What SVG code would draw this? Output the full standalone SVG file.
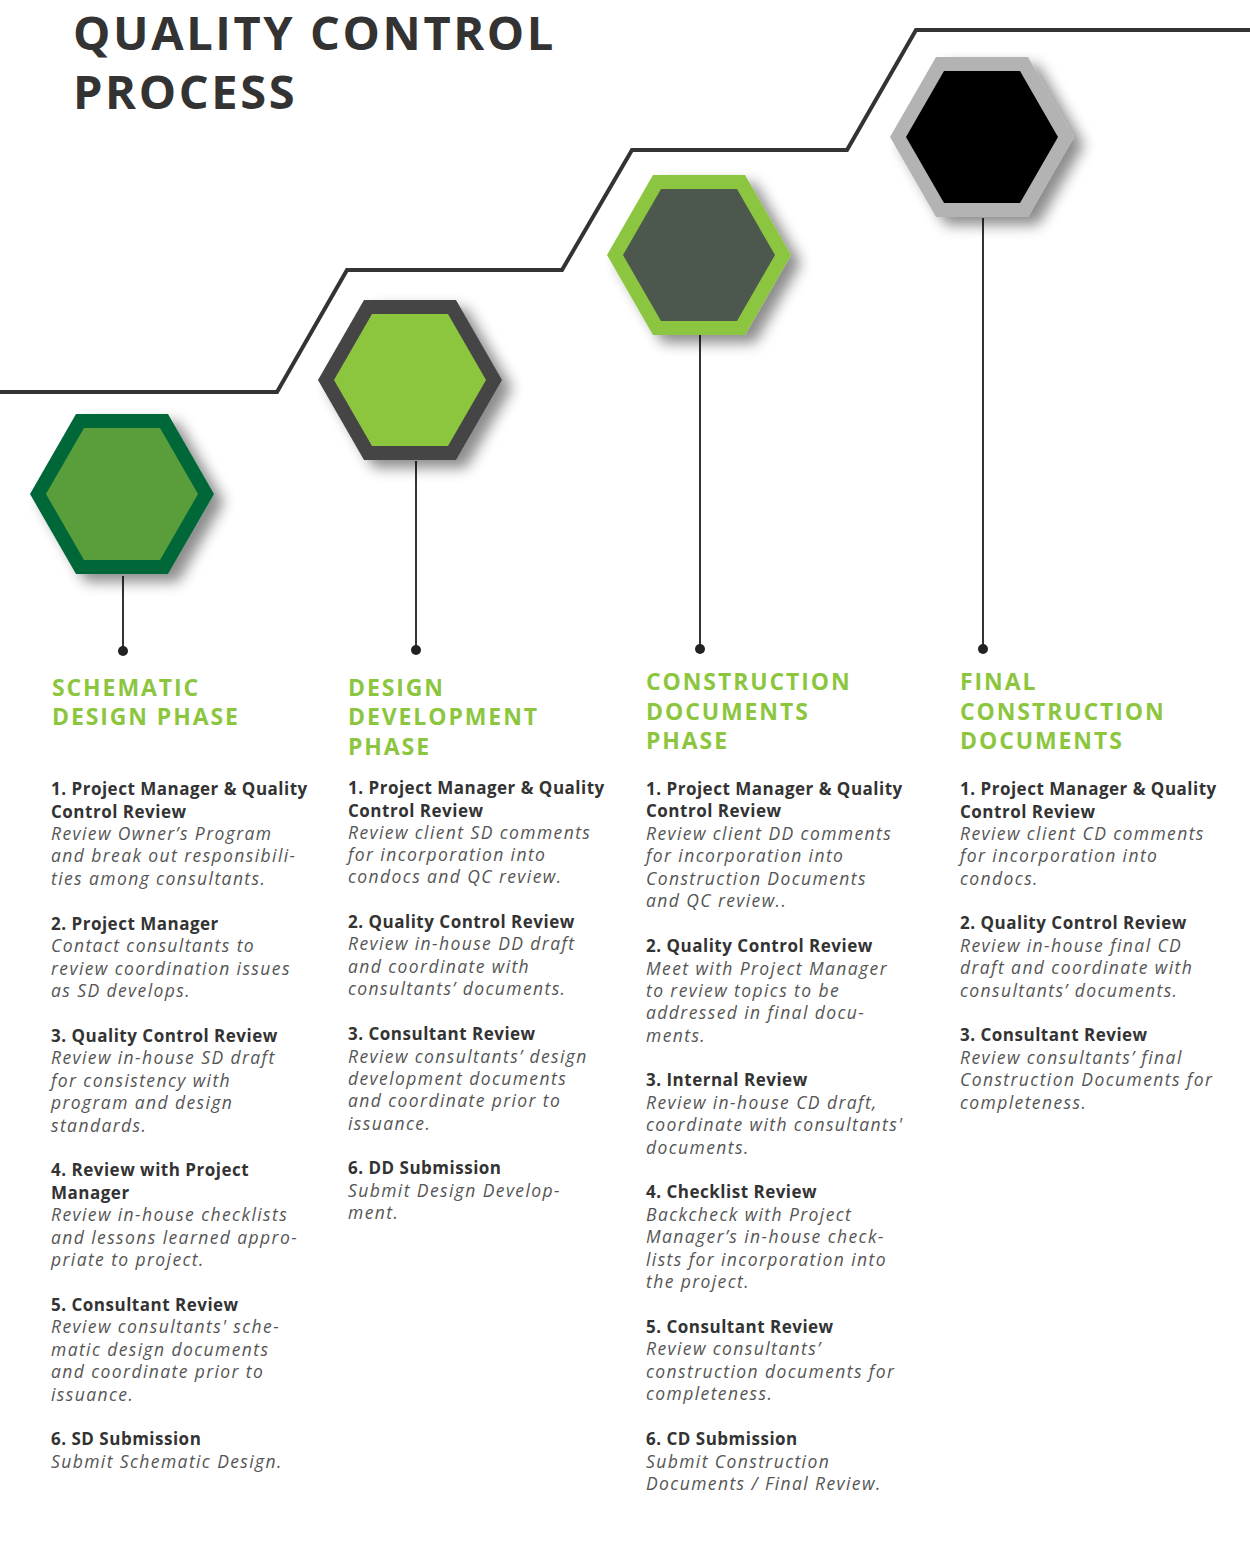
<svg xmlns="http://www.w3.org/2000/svg" width="1250" height="1542" viewBox="0 0 1250 1542">
<style>
.t{font-family:"Open Sans","Liberation Sans",sans-serif;font-weight:700;fill:#333;font-size:47px;letter-spacing:2.6px}
.h{font-family:"Open Sans","Liberation Sans",sans-serif;font-weight:700;fill:#8cc63f;font-size:23px;letter-spacing:1.9px}
.b{font-family:"Open Sans","Liberation Sans",sans-serif;font-weight:700;fill:#333;font-size:17px;letter-spacing:0.5px}
.i{font-family:"Open Sans","Liberation Sans",sans-serif;font-style:italic;fill:#555;font-size:17.5px;letter-spacing:1.4px}
.vl{stroke:#333;stroke-width:2;fill:none}
</style>
<defs>
<filter id="sh" x="-30%" y="-30%" width="170%" height="170%"><feDropShadow dx="10" dy="8" stdDeviation="7" flood-color="#000" flood-opacity="0.45"/></filter>
</defs>
<text class="t" x="73" y="50">QUALITY CONTROL</text>
<text class="t" x="73" y="109">PROCESS</text>
<g id="connectors">
<polyline points="0,392 277,392 347,270 562,270 632,150 847,150 916,30 1250,30" fill="none" stroke="#333" stroke-width="4"/>
<line class="vl" x1="123" y1="576" x2="123" y2="651"/><circle cx="123" cy="651" r="5" fill="#222"/>
<line class="vl" x1="416" y1="461" x2="416" y2="650"/><circle cx="416" cy="650" r="5" fill="#222"/>
<line class="vl" x1="700" y1="335" x2="700" y2="649"/><circle cx="700" cy="649" r="5" fill="#222"/>
<line class="vl" x1="983" y1="218" x2="983" y2="649"/><circle cx="983" cy="649" r="5" fill="#222"/>
</g>
<g id="hex1"><polygon filter="url(#sh)" fill="#006837" points="30,494 76,414 168,414 214,494 168,574 76,574"/><polygon fill="#5a9e3c" points="46,494 84,428 160,428 198,494 160,560 84,560"/></g>
<g id="hex2"><polygon filter="url(#sh)" fill="#444" points="318,380 364,300 456,300 502,380 456,460 364,460"/><polygon fill="#8cc63f" points="334,380 372,314 448,314 486,380 448,446 372,446"/></g>
<g id="hex3"><polygon filter="url(#sh)" fill="#8cc63f" points="607,255 653,175 745,175 791,255 745,335 653,335"/><polygon fill="#4c584d" points="623,255 661,189 737,189 775,255 737,321 661,321"/></g>
<g id="hex4"><polygon filter="url(#sh)" fill="#b3b3b3" points="890,137 936,57 1028,57 1074,137 1028,217 936,217"/><polygon fill="#000" points="906,137 944,71 1020,71 1058,137 1020,203 944,203"/></g>
<g id="col1">
<text class="h" x="52" y="696">SCHEMATIC</text><text class="h" x="52" y="725">DESIGN PHASE</text>
<text class="b" x="51" y="795">1. Project Manager &amp; Quality</text>
<text class="b" x="51" y="818">Control Review</text>
<text class="i" x="51" y="840">Review Owner’s Program</text>
<text class="i" x="51" y="862">and break out responsibili-</text>
<text class="i" x="51" y="885">ties among consultants.</text>
<text class="b" x="51" y="930">2. Project Manager</text>
<text class="i" x="51" y="952">Contact consultants to</text>
<text class="i" x="51" y="975">review coordination issues</text>
<text class="i" x="51" y="997">as SD develops.</text>
<text class="b" x="51" y="1042">3. Quality Control Review</text>
<text class="i" x="51" y="1064">Review in-house SD draft</text>
<text class="i" x="51" y="1087">for consistency with</text>
<text class="i" x="51" y="1109">program and design</text>
<text class="i" x="51" y="1132">standards.</text>
<text class="b" x="51" y="1176">4. Review with Project</text>
<text class="b" x="51" y="1199">Manager</text>
<text class="i" x="51" y="1221">Review in-house checklists</text>
<text class="i" x="51" y="1244">and lessons learned appro-</text>
<text class="i" x="51" y="1266">priate to project.</text>
<text class="b" x="51" y="1311">5. Consultant Review</text>
<text class="i" x="51" y="1333">Review consultants' sche-</text>
<text class="i" x="51" y="1356">matic design documents</text>
<text class="i" x="51" y="1378">and coordinate prior to</text>
<text class="i" x="51" y="1401">issuance.</text>
<text class="b" x="51" y="1445">6. SD Submission</text>
<text class="i" x="51" y="1468">Submit Schematic Design.</text>
</g>
<g id="col2">
<text class="h" x="348" y="696">DESIGN</text><text class="h" x="348" y="725">DEVELOPMENT</text><text class="h" x="348" y="755">PHASE</text>
<text class="b" x="348" y="794">1. Project Manager &amp; Quality</text>
<text class="b" x="348" y="817">Control Review</text>
<text class="i" x="348" y="839">Review client SD comments</text>
<text class="i" x="348" y="861">for incorporation into</text>
<text class="i" x="348" y="883">condocs and QC review.</text>
<text class="b" x="348" y="928">2. Quality Control Review</text>
<text class="i" x="348" y="950">Review in-house DD draft</text>
<text class="i" x="348" y="973">and coordinate with</text>
<text class="i" x="348" y="995">consultants’ documents.</text>
<text class="b" x="348" y="1040">3. Consultant Review</text>
<text class="i" x="348" y="1063">Review consultants’ design</text>
<text class="i" x="348" y="1085">development documents</text>
<text class="i" x="348" y="1107">and coordinate prior to</text>
<text class="i" x="348" y="1130">issuance.</text>
<text class="b" x="348" y="1174">6. DD Submission</text>
<text class="i" x="348" y="1197">Submit Design Develop-</text>
<text class="i" x="348" y="1219">ment.</text>
</g>
<g id="col3">
<text class="h" x="646" y="690">CONSTRUCTION</text><text class="h" x="646" y="720">DOCUMENTS</text><text class="h" x="646" y="749">PHASE</text>
<text class="b" x="646" y="795">1. Project Manager &amp; Quality</text>
<text class="b" x="646" y="817">Control Review</text>
<text class="i" x="646" y="840">Review client DD comments</text>
<text class="i" x="646" y="862">for incorporation into</text>
<text class="i" x="646" y="885">Construction Documents</text>
<text class="i" x="646" y="907">and QC review..</text>
<text class="b" x="646" y="952">2. Quality Control Review</text>
<text class="i" x="646" y="975">Meet with Project Manager</text>
<text class="i" x="646" y="997">to review topics to be</text>
<text class="i" x="646" y="1019">addressed in final docu-</text>
<text class="i" x="646" y="1042">ments.</text>
<text class="b" x="646" y="1086">3. Internal Review</text>
<text class="i" x="646" y="1109">Review in-house CD draft,</text>
<text class="i" x="646" y="1131">coordinate with consultants'</text>
<text class="i" x="646" y="1154">documents.</text>
<text class="b" x="646" y="1198">4. Checklist Review</text>
<text class="i" x="646" y="1221">Backcheck with Project</text>
<text class="i" x="646" y="1243">Manager’s in-house check-</text>
<text class="i" x="646" y="1266">lists for incorporation into</text>
<text class="i" x="646" y="1288">the project.</text>
<text class="b" x="646" y="1333">5. Consultant Review</text>
<text class="i" x="646" y="1355">Review consultants’</text>
<text class="i" x="646" y="1378">construction documents for</text>
<text class="i" x="646" y="1400">completeness.</text>
<text class="b" x="646" y="1445">6. CD Submission</text>
<text class="i" x="646" y="1468">Submit Construction</text>
<text class="i" x="646" y="1490">Documents / Final Review.</text>
</g>
<g id="col4">
<text class="h" x="960" y="690">FINAL</text><text class="h" x="960" y="720">CONSTRUCTION</text><text class="h" x="960" y="749">DOCUMENTS</text>
<text class="b" x="960" y="795">1. Project Manager &amp; Quality</text>
<text class="b" x="960" y="818">Control Review</text>
<text class="i" x="960" y="840">Review client CD comments</text>
<text class="i" x="960" y="862">for incorporation into</text>
<text class="i" x="960" y="885">condocs.</text>
<text class="b" x="960" y="929">2. Quality Control Review</text>
<text class="i" x="960" y="952">Review in-house final CD</text>
<text class="i" x="960" y="974">draft and coordinate with</text>
<text class="i" x="960" y="997">consultants’ documents.</text>
<text class="b" x="960" y="1041">3. Consultant Review</text>
<text class="i" x="960" y="1064">Review consultants’ final</text>
<text class="i" x="960" y="1086">Construction Documents for</text>
<text class="i" x="960" y="1109">completeness.</text>
</g>
</svg>
